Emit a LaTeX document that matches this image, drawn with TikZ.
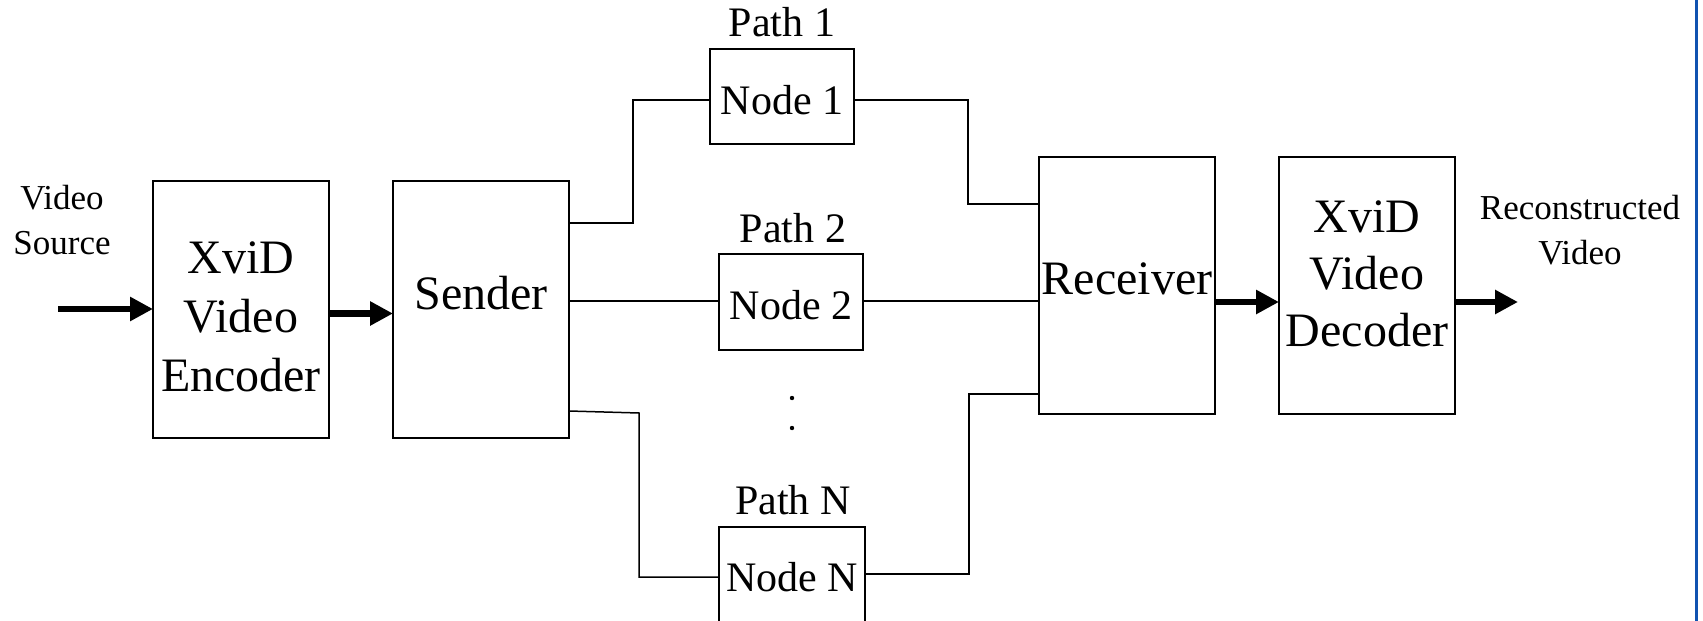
\documentclass[tikz,border=0pt]{standalone}
\usepackage{fontspec}
\setmainfont{Liberation Serif}
\usetikzlibrary{arrows.meta}
\definecolor{edgeblue}{RGB}{16,82,176}
\begin{document}
\begin{tikzpicture}[x=1pt,y=-1pt,
  box/.style={draw=black, line width=1.5pt, inner sep=0pt, outer sep=0pt, fill=white},
  bigbox/.style={box, minimum width=176pt, minimum height=257pt},
  smallbox/.style={box, minimum width=145pt, minimum height=95pt},
  bigtxt/.style={inner sep=0pt, align=center, font=\fontsize{48}{59}\selectfont},
  midtxt/.style={inner sep=0pt, align=center, font=\fontsize{42}{50}\selectfont},
  smalltxt/.style={inner sep=0pt, align=center, font=\fontsize{35}{45}\selectfont},
  wire/.style={draw=black, line width=1.5pt},
  fatarrow/.style={draw=black, line width=6.5pt, -{Triangle[length=23pt,width=23pt]}}
]
\clip (0,0) rectangle (1703,621);
\fill[white] (0,0) rectangle (1703,621);

% boxes
\node[bigbox] (enc) at (241,309.5) {};
\node[bigbox] (sender) at (481,309.5) {};
\node[bigbox] (recv) at (1127,285.5) {};
\node[bigbox] (dec) at (1367,285.5) {};
\node[smallbox, minimum width=144pt] (n1) at (782,96.5) {};
\node[smallbox, minimum width=144pt, minimum height=96pt] (n2) at (791,302) {};
\node[smallbox, minimum width=146pt, minimum height=130pt] (nN) at (792,592) {};

% texts
\node[smalltxt] (src) at (62,220) {Video\\Source};
\node[bigtxt] (enctxt) at (241,317) {XviD\\Video\\Encoder};
\node[bigtxt] (sendtxt) at (481,293) {Sender};
\node[bigtxt] (recvtxt) at (1127,279) {Receiver};
\node[bigtxt, font=\fontsize{48}{57}\selectfont] (dectxt) at (1367,274) {XviD\\Video\\Decoder};
\node[smalltxt] (rec) at (1580,230) {Reconstructed\\Video};
\node[midtxt] (p1) at (782,22) {Path 1};
\node[midtxt] (p2) at (793,228) {Path 2};
\node[midtxt] (pN) at (793,500) {Path N};
\node[midtxt] (n1t) at (782,100) {Node 1};
\node[midtxt] (n2t) at (791,305) {Node 2};
\node[midtxt] (nNt) at (792,577) {Node N};

% dots
\fill (792,398) circle (2.2pt);
\fill (792,428) circle (2.2pt);

% connectors
\draw[wire] (sender.east |- 0,223) -| (633,100) -- (n1.west |- 0,100);
\draw[wire] (n1.east |- 0,100) -- (968,100) |- (recv.west |- 0,204);
\draw[wire] (sender.east |- 0,301) -- (n2.west |- 0,301);
\draw[wire] (n2.east |- 0,301) -- (recv.west |- 0,301);
\draw[wire] (sender.east |- 0,411) -- (639,413) -- (639,577) -- (nN.west |- 0,577);
\draw[wire] (nN.east |- 0,574) -- (969,574) -- (969,394) -- (recv.west |- 0,394);

% arrows
\coordinate (inS) at (58,309);
\coordinate (outE) at (1518,302);
\draw[fatarrow] (inS) -- (enc.west |- inS);
\draw[fatarrow] ([yshift=-4pt]enc.east) -- (sender.west |- 0,313.5);
\draw[fatarrow] (recv.east |- 0,302) -- (dec.west |- 0,302);
\draw[fatarrow] (dec.east |- outE) -- (outE);

% blue edge line
\draw[edgeblue, line width=3pt] (1696,0) -- (1696,621);
\end{tikzpicture}
\end{document}
